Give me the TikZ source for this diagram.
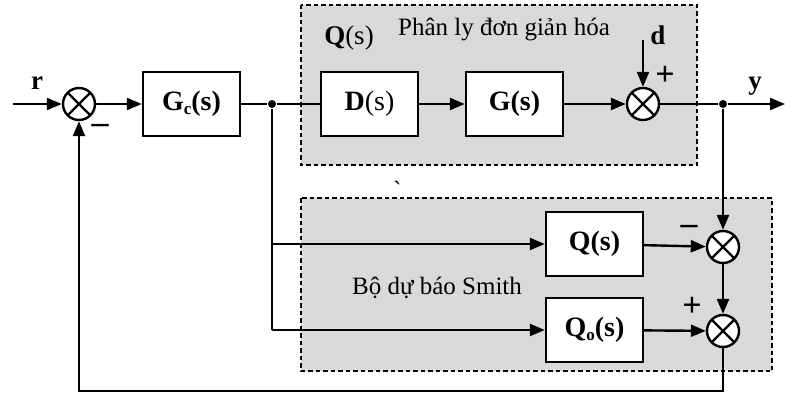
\documentclass[tikz,border=0pt]{standalone}
\usepackage{fontspec}
\setmainfont{Liberation Serif}
\usetikzlibrary{arrows.meta}
\newcommand{\subsc}[1]{\raisebox{-0.3ex}{\fontsize{17}{18}\selectfont #1}}
\begin{document}
\begin{tikzpicture}[x=1pt,y=-1pt,line width=2.4pt,
  >={Triangle[length=15pt,width=12pt]},
  panel/.style={draw,dashed,line width=1.2pt,dash pattern=on 4.5pt off 3pt,fill=black!15},
  blk/.style={draw,fill=white,minimum width=97pt,minimum height=64pt,inner sep=0pt,
    font=\fontsize{28}{30}\selectfont},
  sumnode/.style={draw,circle,fill=white,minimum size=32pt,inner sep=0pt,
    path picture={\draw[line width=2.4pt]
      (path picture bounding box.north west) -- (path picture bounding box.south east)
      (path picture bounding box.north east) -- (path picture bounding box.south west);}},
  sig/.style={font=\fontsize{27}{29}\selectfont\bfseries,inner sep=0pt},
  sgn/.style={font=\fontsize{34}{36}\selectfont\bfseries,inner sep=0pt},
  caption/.style={font=\fontsize{25}{27}\selectfont,inner sep=0pt},
  dot/.style={circle,fill=black,minimum size=8pt,inner sep=0pt}]
\useasboundingbox (0,0) rectangle (785,396);

% shaded panels
\path[panel] (301,5) rectangle (697,165);
\path[panel] (301,198) rectangle (772,371);

% blocks and summing junctions
\node[sumnode] (s1) at (79,104) {};
\node[blk] (gc) at (191.5,104) {\bfseries G\subsc{c}(s)};
\node[dot] (j1) at (272,104) {};
\node[blk] (d) at (369.5,104) {\textbf{D}(s)};
\node[blk] (g) at (514.5,104) {\textbf{G(s)}};
\node[sumnode] (s2) at (643,104) {};
\node[dot] (j2) at (723,104) {};
\node[blk] (q) at (594.5,244) {\textbf{Q(s)}};
\node[blk] (qo) at (594.5,330) {\bfseries Q\subsc{o}(s)};
\node[sumnode] (s3) at (723,247) {};
\node[sumnode] (s4) at (723,331) {};

\coordinate (rin) at (13,104);
\coordinate (din) at (643,40);
\coordinate (yout) at (785,104);
\coordinate (fb1) at (723,391);
\coordinate (fb2) at (79,391);
\coordinate (b1) at (272,244);
\coordinate (b2) at (272,330);

% forward path
\draw[->] (rin) -- (s1);
\draw[->] (s1) -- (gc);
\draw (gc) -- (j1);
\draw (j1) -- (d);
\draw[->] (d) -- (g);
\draw[->] (g) -- (s2);
\draw[->] (din) -- (s2);
\draw (s2) -- (j2);
\draw[->] (j2) -- (yout);

% predictor branch
\draw (j1) -- (b2);
\draw[->] (b1) -- (q);
\draw[->] (b2) -- (qo);
\draw[->] (q) -- (s3);
\draw[->] (qo) -- (s4);
\draw[->] (j2) -- (s3);
\draw[->] (s3) -- (s4);

% feedback
\draw[->] (s4) -- (fb1) -- (fb2) -- (s1);

% labels
\node[sig] at (37,83) {r};
\node[sgn] at (100,129) {--};
\node[sig] at (658,35) {d};
\node[sgn] at (665,76) {+};
\node[sig] at (755,86) {y};
\node[sgn] at (689,230) {--};
\node[sgn] at (692,307) {+};
\node[font=\fontsize{27}{29}\selectfont,inner sep=0pt] at (349,38) {\textbf{Q}(s)};
\node[caption] at (504,30) {Phân ly đơn giản hóa};
\node[caption] at (437,288) {Bộ dự báo Smith};
\node[caption] at (398,192) {\`{}};
\end{tikzpicture}
\end{document}
